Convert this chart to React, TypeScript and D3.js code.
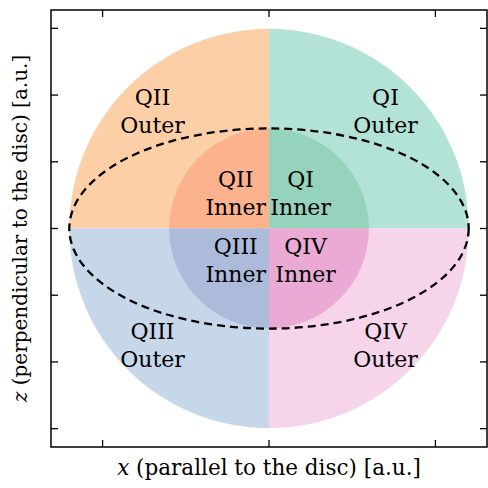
import React from "react";
import * as d3 from "d3";

const quadrants = ["QI", "QII", "QIII", "QIV"];
const startAngles = [0, 1.5 * Math.PI, Math.PI, 0.5 * Math.PI];
const outerColors = ["#b3e3d6", "#fdcfa7", "#c7d7ea", "#f6d4e9"];
const innerColors = ["#95d3bd", "#fcb38d", "#adbbdb", "#ebaad4"];
const outerLabelPos = [[0.7, 0.71], [-0.7, 0.71], [-0.7, -0.69], [0.7, -0.69]];
const innerLabelPos = [[0.19, 0.22], [-0.2, 0.22], [-0.2, -0.18], [0.22, -0.18]];
const outerRadius = 1.2;
const innerRadius = 0.6;
const ellipseRx = 1.2;
const ellipseRz = 0.6;
const xTicks = [-1, 0, 1];
const zTicks = [-1.2, -0.8, -0.4, 0, 0.4, 0.8, 1.2];
const lim = 1.31;

export default function App() {
  const W = 488, H = 488;
  const L = 51, R = 487, T = 10, B = 447;
  const x = d3.scaleLinear().domain([-lim, lim]).range([L, R]);
  const y = d3.scaleLinear().domain([-lim, lim]).range([B, T]);
  const cx = x(0), cy = y(0);
  const rOut = x(outerRadius) - x(0);
  const rIn = x(innerRadius) - x(0);
  const arc = d3.arc();
  const font = "DejaVu Serif";
  const fs = 22;
  const tickLen = 7;

  const label = (q: string, sub: string, p: number[], key: string) => (
    <text key={key} x={x(p[0])} y={y(p[1])} textAnchor="middle" fontFamily={font} fontSize={fs} fill="#000">
      <tspan x={x(p[0])} dy="-0.22em">{q}</tspan>
      <tspan x={x(p[0])} dy="1.28em">{sub}</tspan>
    </text>
  );

  return (
    <svg width={W} height={H} style={{ position: "absolute", left: 0, top: 0 }}>
      <rect x={0} y={0} width={W} height={H} fill="white" />
      <g transform={`translate(${cx},${cy})`}>
        {quadrants.map((q, i) => (
          <path key={"o" + q} d={arc({ innerRadius: 0, outerRadius: rOut, startAngle: startAngles[i], endAngle: startAngles[i] + Math.PI / 2 }) as string} fill={outerColors[i]} />
        ))}
        {quadrants.map((q, i) => (
          <path key={"i" + q} d={arc({ innerRadius: 0, outerRadius: rIn, startAngle: startAngles[i], endAngle: startAngles[i] + Math.PI / 2 }) as string} fill={innerColors[i]} />
        ))}
      </g>
      <ellipse cx={cx} cy={cy} rx={x(ellipseRx) - x(0)} ry={y(0) - y(ellipseRz)} fill="none" stroke="#000" strokeWidth={2.3} strokeDasharray="8,5" />
      {quadrants.map((q, i) => label(q, "Outer", outerLabelPos[i], "lo" + q))}
      {quadrants.map((q, i) => label(q, "Inner", innerLabelPos[i], "li" + q))}
      <rect x={L} y={T} width={R - L} height={B - T} fill="none" stroke="#000" strokeWidth={1.5} />
      {xTicks.map((t) => (
        <g key={"xt" + t}>
          <line x1={x(t)} x2={x(t)} y1={B} y2={B - tickLen} stroke="#000" strokeWidth={1.3} />
          <line x1={x(t)} x2={x(t)} y1={T} y2={T + tickLen} stroke="#000" strokeWidth={1.3} />
        </g>
      ))}
      {zTicks.map((t) => (
        <g key={"zt" + t}>
          <line x1={L} x2={L + tickLen} y1={y(t)} y2={y(t)} stroke="#000" strokeWidth={1.3} />
          <line x1={R} x2={R - tickLen} y1={y(t)} y2={y(t)} stroke="#000" strokeWidth={1.3} />
        </g>
      ))}
      <text x={(L + R) / 2} y={475} textAnchor="middle" fontFamily={font} fontSize={21.5} fill="#000">
        <tspan fontStyle="italic">x</tspan> (parallel to the disc) [a.u.]
      </text>
      <text transform={`translate(27,${(T + B) / 2}) rotate(-90)`} textAnchor="middle" fontFamily={font} fontSize={20} fill="#000">
        <tspan fontStyle="italic">z</tspan> (perpendicular to the disc) [a.u.]
      </text>
    </svg>
  );
}
